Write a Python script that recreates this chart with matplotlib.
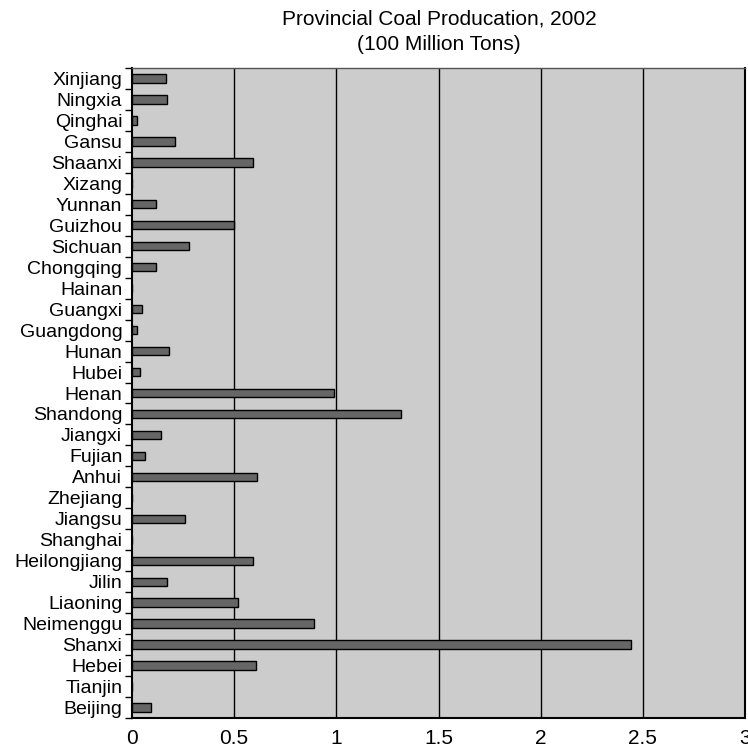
import numpy as np
import matplotlib.pyplot as plt
from matplotlib.ticker import FixedLocator

# provinces listed bottom to top, as on the chart
provinces = ['Beijing', 'Tianjin', 'Hebei', 'Shanxi', 'Neimenggu', 'Liaoning', 'Jilin',
             'Heilongjiang', 'Shanghai', 'Jiangsu', 'Zhejiang', 'Anhui', 'Fujian', 'Jiangxi',
             'Shandong', 'Henan', 'Hubei', 'Hunan', 'Guangdong', 'Guangxi', 'Hainan',
             'Chongqing', 'Sichuan', 'Guizhou', 'Yunnan', 'Xizang', 'Shaanxi', 'Gansu',
             'Qinghai', 'Ningxia', 'Xinjiang']
production = [0.094, 0.0, 0.608, 2.44, 0.893, 0.52, 0.17,
              0.59, 0.0, 0.26, 0.0, 0.61, 0.064, 0.14,
              1.315, 0.99, 0.041, 0.18, 0.023, 0.047, 0.0,
              0.117, 0.28, 0.50, 0.119, 0.0, 0.592, 0.212,
              0.023, 0.173, 0.164]
x_ticks = [0, 0.5, 1, 1.5, 2, 2.5, 3]
x_labels = ['0', '0.5', '1', '1.5', '2', '2.5', '3']

plt.rcParams['font.family'] = ['Liberation Sans', 'DejaVu Sans']

fig = plt.figure(figsize=(7.48, 7.53), dpi=100)
ax = fig.add_axes([132 / 748, 1 - 718 / 753, (745 - 132) / 748, (718 - 68) / 753])
ax.set_facecolor('#cccccc')

y = np.arange(len(provinces))
ax.barh(y, production, height=0.4, color='#666666', edgecolor='black', linewidth=1, zorder=3)

ax.set_xlim(0, 3)
ax.set_ylim(-0.5, len(provinces) - 0.5)

# vertical grid lines
for xv in x_ticks[1:-1]:
    ax.axvline(xv, color='black', linewidth=1, zorder=1)

ax.set_xticks(x_ticks)
ax.set_xticklabels(x_labels, fontsize=15)
ax.tick_params(axis='x', length=0, pad=8)
ax.xaxis.set_minor_locator(FixedLocator([0]))
ax.tick_params(axis='x', which='minor', length=5, width=1, direction='out')

ax.set_yticks(y)
ax.set_yticklabels(provinces, fontsize=14)
ax.tick_params(axis='y', length=0, pad=7)
ax.yaxis.set_minor_locator(FixedLocator(np.arange(len(provinces) + 1) - 0.5))
ax.tick_params(axis='y', which='minor', length=5, width=1, direction='out')

for s in ['left', 'bottom', 'right']:
    ax.spines[s].set_linewidth(1.5)
    ax.spines[s].set_color('black')
ax.spines['top'].set_color('#555555')
ax.spines['top'].set_linewidth(1)

fig.text(439 / 748, 1 - 32 / 753, 'Provincial Coal Producation, 2002\n(100 Million Tons)',
         ha='center', va='center', fontsize=15, linespacing=1.45)

fig.savefig('out.png', dpi=100)
